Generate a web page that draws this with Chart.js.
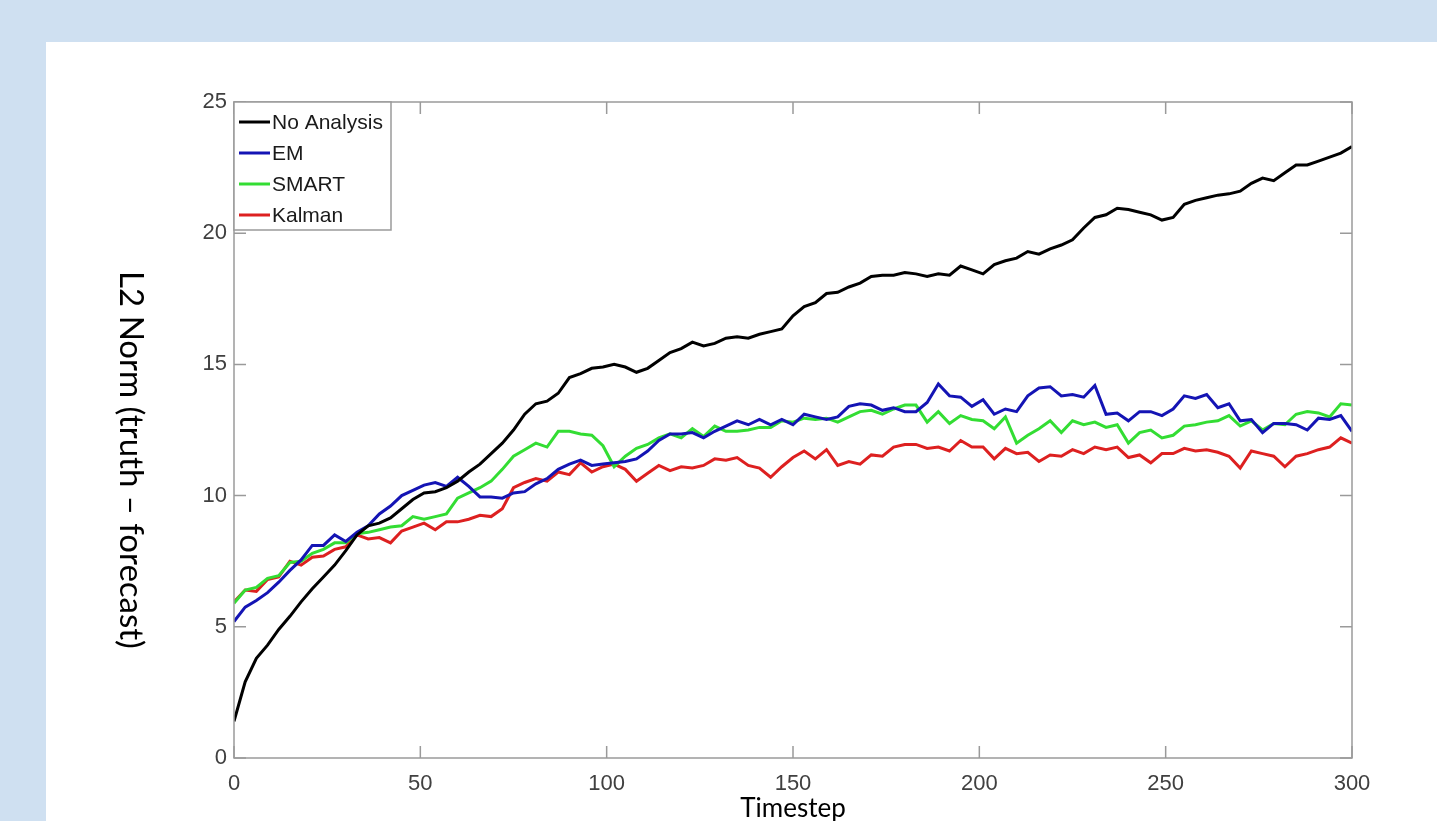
<!DOCTYPE html>
<html>
<head>
<meta charset="utf-8">
<title>L2 Norm vs Timestep</title>
<script src="https://cdn.jsdelivr.net/npm/chart.js@4.4.1/dist/chart.umd.min.js"></script>
<style>
  html, body { margin: 0; padding: 0; background: #cfe0f1; overflow: hidden; }
  #panel { position: absolute; left: 46px; top: 42px; right: 0; bottom: 0; background: #ffffff; }
  #chart { position: absolute; left: 0; top: 0; }
</style>
</head>
<body>
<div id="panel"></div>
<canvas id="chart" width="1437" height="821"></canvas>
<script>
// timesteps sampled every 3 steps, 0..300
const timesteps = Array.from({ length: 101 }, (_, i) => i * 3);

const noAnalysis = [
    1.4, 2.9, 3.8, 4.3, 4.9, 5.4, 5.95, 6.45, 6.9, 7.35,
    7.9, 8.5, 8.85, 8.95, 9.15, 9.5, 9.85, 10.1, 10.15, 10.3,
    10.55, 10.9, 11.2, 11.6, 12.0, 12.5, 13.1, 13.5, 13.6, 13.9,
    14.5, 14.65, 14.85, 14.9, 15.0, 14.9, 14.7, 14.85, 15.15, 15.45,
    15.6, 15.85, 15.7, 15.8, 16.0, 16.05, 16.0, 16.15, 16.25, 16.35,
    16.85, 17.2, 17.35, 17.7, 17.75, 17.95, 18.1, 18.35, 18.4, 18.4,
    18.5, 18.45, 18.35, 18.45, 18.4, 18.75, 18.6, 18.45, 18.8, 18.95,
    19.05, 19.3, 19.2, 19.4, 19.55, 19.75, 20.2, 20.6, 20.7, 20.95,
    20.9, 20.8, 20.7, 20.5, 20.6, 21.1, 21.25, 21.35, 21.45, 21.5,
    21.6, 21.9, 22.1, 22.0, 22.3, 22.6, 22.6, 22.75, 22.9, 23.05,
    23.3
];

const em = [
    5.2, 5.75, 6.0, 6.3, 6.7, 7.15, 7.55, 8.1, 8.1, 8.5,
    8.25, 8.6, 8.85, 9.3, 9.6, 10.0, 10.2, 10.4, 10.5, 10.35,
    10.7, 10.35, 9.95, 9.95, 9.9, 10.1, 10.15, 10.45, 10.65, 11.0,
    11.2, 11.35, 11.15, 11.2, 11.25, 11.3, 11.4, 11.7, 12.1, 12.35,
    12.35, 12.4, 12.2, 12.45, 12.65, 12.85, 12.7, 12.9, 12.7, 12.9,
    12.7, 13.1, 13.0, 12.9, 13.0, 13.4, 13.5, 13.45, 13.25, 13.35,
    13.2, 13.2, 13.55, 14.25, 13.8, 13.75, 13.4, 13.65, 13.1, 13.3,
    13.2, 13.8, 14.1, 14.15, 13.8, 13.85, 13.75, 14.2, 13.1, 13.15,
    12.85, 13.2, 13.2, 13.05, 13.3, 13.8, 13.7, 13.85, 13.35, 13.5,
    12.85, 12.9, 12.4, 12.75, 12.75, 12.7, 12.5, 12.95, 12.9, 13.05,
    12.45
];

const smart = [
    5.9, 6.4, 6.5, 6.85, 6.95, 7.45, 7.5, 7.8, 7.95, 8.2,
    8.2, 8.55, 8.6, 8.7, 8.8, 8.85, 9.2, 9.1, 9.2, 9.3,
    9.9, 10.1, 10.3, 10.55, 11.0, 11.5, 11.75, 12.0, 11.85, 12.45,
    12.45, 12.35, 12.3, 11.9, 11.1, 11.5, 11.8, 11.95, 12.2, 12.35,
    12.2, 12.55, 12.25, 12.65, 12.45, 12.45, 12.5, 12.6, 12.6, 12.85,
    12.8, 12.95, 12.9, 12.95, 12.8, 13.0, 13.2, 13.25, 13.1, 13.3,
    13.45, 13.45, 12.8, 13.2, 12.75, 13.05, 12.9, 12.85, 12.55, 13.0,
    12.0, 12.3, 12.55, 12.85, 12.4, 12.85, 12.7, 12.8, 12.6, 12.7,
    12.0, 12.4, 12.5, 12.2, 12.3, 12.65, 12.7, 12.8, 12.85, 13.05,
    12.65, 12.85, 12.5, 12.75, 12.7, 13.1, 13.2, 13.15, 13.0, 13.5,
    13.45
];

const kalman = [
    5.95, 6.4, 6.35, 6.8, 6.9, 7.5, 7.35, 7.65, 7.7, 7.95,
    8.05, 8.5, 8.35, 8.4, 8.2, 8.65, 8.8, 8.95, 8.7, 9.0,
    9.0, 9.1, 9.25, 9.2, 9.5, 10.3, 10.5, 10.65, 10.55, 10.9,
    10.8, 11.25, 10.9, 11.1, 11.2, 11.0, 10.55, 10.85, 11.15, 10.95,
    11.1, 11.05, 11.15, 11.4, 11.35, 11.45, 11.15, 11.05, 10.7, 11.1,
    11.45, 11.7, 11.4, 11.75, 11.15, 11.3, 11.2, 11.55, 11.5, 11.85,
    11.95, 11.95, 11.8, 11.85, 11.7, 12.1, 11.85, 11.85, 11.4, 11.8,
    11.6, 11.65, 11.3, 11.55, 11.5, 11.75, 11.6, 11.85, 11.75, 11.85,
    11.45, 11.55, 11.25, 11.6, 11.6, 11.8, 11.7, 11.75, 11.65, 11.5,
    11.05, 11.7, 11.6, 11.5, 11.1, 11.5, 11.6, 11.75, 11.85, 12.2,
    12.0
];

const seriesNames = ['No Analysis', 'EM', 'SMART', 'Kalman'];
const seriesColors = ['#000000', '#1414b4', '#33dd33', '#dd2020'];
const seriesValues = [noAnalysis, em, smart, kalman];

const xTicks = [0, 50, 100, 150, 200, 250, 300];
const yTicks = [0, 5, 10, 15, 20, 25];

const AXIS_GRAY = '#9a9a9a';
const TICK_LEN = 12;

// MATLAB style box, inward ticks, legend and axis titles
const matlabFrame = {
    id: 'matlabFrame',
    afterDatasetsDraw(chart) {
        const ctx = chart.ctx;
        const area = chart.chartArea;
        const xs = chart.scales.x;
        const ys = chart.scales.y;

        ctx.save();
        ctx.strokeStyle = AXIS_GRAY;
        ctx.lineWidth = 1.5;
        ctx.strokeRect(area.left, area.top, area.right - area.left, area.bottom - area.top);

        ctx.beginPath();
        xTicks.forEach(t => {
            const px = xs.getPixelForValue(t);
            ctx.moveTo(px, area.bottom);
            ctx.lineTo(px, area.bottom - TICK_LEN);
            ctx.moveTo(px, area.top);
            ctx.lineTo(px, area.top + TICK_LEN);
        });
        yTicks.forEach(v => {
            const py = ys.getPixelForValue(v);
            ctx.moveTo(area.left, py);
            ctx.lineTo(area.left + TICK_LEN, py);
            ctx.moveTo(area.right, py);
            ctx.lineTo(area.right - TICK_LEN, py);
        });
        ctx.stroke();

        // legend box in the top-left corner
        const boxW = 157;
        const boxH = 128;
        ctx.fillStyle = '#ffffff';
        ctx.fillRect(area.left, area.top, boxW, boxH);
        ctx.strokeRect(area.left, area.top, boxW, boxH);

        ctx.font = '21px "Liberation Sans", Arial, sans-serif';
        ctx.textBaseline = 'middle';
        ctx.textAlign = 'left';
        chart.data.datasets.forEach((ds, i) => {
            const cy = area.top + 20 + i * 31;
            ctx.strokeStyle = ds.borderColor;
            ctx.lineWidth = 3;
            ctx.beginPath();
            ctx.moveTo(area.left + 5, cy);
            ctx.lineTo(area.left + 36, cy);
            ctx.stroke();
            ctx.fillStyle = '#1a1a1a';
            ctx.fillText(ds.label, area.left + 38, cy + 1);
        });

        // axis titles
        ctx.fillStyle = '#000000';
        ctx.textAlign = 'center';
        ctx.textBaseline = 'middle';
        ctx.font = '26px Lato, "Open Sans", sans-serif';
        ctx.fillText('Timestep', (area.left + area.right) / 2, 809);

        ctx.font = '33px Lato, "Open Sans", sans-serif';
        ctx.translate(131, 460);
        ctx.rotate(Math.PI / 2);
        ctx.fillText('L2 Norm (truth \u2013 forecast)', 0, 0);
        ctx.restore();
    }
};

const datasets = seriesNames.map((name, i) => ({
    label: name,
    data: timesteps.map((t, j) => ({ x: t, y: seriesValues[i][j] })),
    borderColor: seriesColors[i],
    backgroundColor: seriesColors[i],
    borderWidth: 3,
    pointRadius: 0,
    tension: 0,
    fill: false
}));

const ctx = document.getElementById('chart').getContext('2d');

new Chart(ctx, {
    type: 'line',
    data: { datasets: datasets },
    options: {
        responsive: false,
        animation: false,
        layout: {
            padding: { left: 194, right: 85, top: 102, bottom: 23 }
        },
        plugins: {
            legend: { display: false },
            tooltip: { enabled: false }
        },
        scales: {
            x: {
                type: 'linear',
                min: 0,
                max: 300,
                afterBuildTicks: (scale) => { scale.ticks = xTicks.map(v => ({ value: v })); },
                afterFit: (scale) => { scale.height = 40; },
                grid: { display: false, drawTicks: false },
                border: { display: false },
                ticks: {
                    color: '#404040',
                    padding: 13,
                    maxRotation: 0,
                    font: { family: '"Liberation Sans", Arial, sans-serif', size: 22 }
                }
            },
            y: {
                type: 'linear',
                min: 0,
                max: 25,
                afterBuildTicks: (scale) => { scale.ticks = yTicks.map(v => ({ value: v })); },
                afterFit: (scale) => { scale.width = 40; },
                grid: { display: false, drawTicks: false },
                border: { display: false },
                ticks: {
                    color: '#404040',
                    padding: 7,
                    font: { family: '"Liberation Sans", Arial, sans-serif', size: 22 }
                }
            }
        }
    },
    plugins: [matlabFrame]
});
</script>
</body>
</html>
